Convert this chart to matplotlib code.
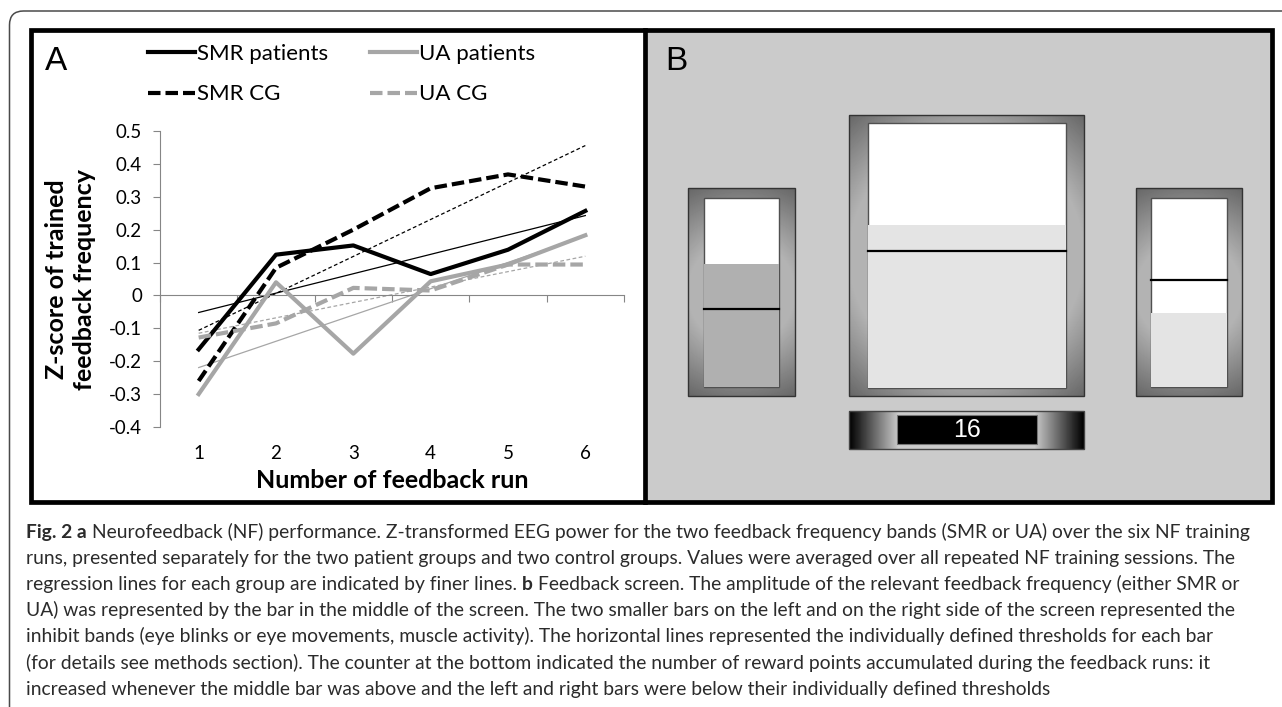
import numpy as np
import matplotlib.pyplot as plt
from matplotlib.patches import Rectangle, FancyBboxPatch

plt.rcParams['axes.unicode_minus'] = False

# ---------------------------------------------------------
# Data
# ---------------------------------------------------------
runs = [1, 2, 3, 4, 5, 6]
smr_patients = [-0.164, 0.124, 0.152, 0.065, 0.139, 0.257]
smr_cg = [-0.260, 0.084, 0.200, 0.326, 0.368, 0.331]
ua_patients = [-0.300, 0.040, -0.177, 0.043, 0.094, 0.183]
ua_cg = [-0.128, -0.085, 0.023, 0.015, 0.094, 0.094]

y_ticks = [-0.4, -0.3, -0.2, -0.1, 0.0, 0.1, 0.2, 0.3, 0.4, 0.5]
y_tick_labels = ["-0.4", "-0.3", "-0.2", "-0.1", "0", "0.1", "0.2", "0.3", "0.4", "0.5"]

BLACK = "black"
GRAY = "#a6a6a6"
AXIS_GRAY = "#868686"
FONT = "Lato"

series = [
    ("SMR patients", smr_patients, BLACK, "solid"),
    ("SMR CG", smr_cg, BLACK, "dashed"),
    ("UA patients", ua_patients, GRAY, "solid"),
    ("UA CG", ua_cg, GRAY, "dashed"),
]

# caption: each line is a list of (text, bold) pieces, joined by one space
caption_lines = [
    [("Fig. 2 a", True), ("Neurofeedback (NF) performance. Z-transformed EEG power for the two feedback frequency bands (SMR or UA) over the six NF training", False)],
    [("runs, presented separately for the two patient groups and two control groups. Values were averaged over all repeated NF training sessions. The", False)],
    [("regression lines for each group are indicated by finer lines.", False), ("b", True), ("Feedback screen. The amplitude of the relevant feedback frequency (either SMR or", False)],
    [("UA) was represented by the bar in the middle of the screen. The two smaller bars on the left and on the right side of the screen represented the", False)],
    [("inhibit bands (eye blinks or eye movements, muscle activity). The horizontal lines represented the individually defined thresholds for each bar", False)],
    [("(for details see methods section). The counter at the bottom indicated the number of reward points accumulated during the feedback runs: it", False)],
    [("increased whenever the middle bar was above and the left and right bars were below their individually defined thresholds", False)],
]

# ---------------------------------------------------------
# Figure / layout (pixel helpers)
# ---------------------------------------------------------
W, H = 1282, 707
fig = plt.figure(figsize=(W / 100, H / 100), dpi=100)


def fig_box(x0, y0, x1, y1):
    return [x0 / W, 1 - y1 / H, (x1 - x0) / W, (y1 - y0) / H]


bg = fig.add_axes([0, 0, 1, 1])
bg.set_xlim(0, W)
bg.set_ylim(H, 0)
bg.axis("off")

# outer rounded frame
bg.add_patch(FancyBboxPatch((9.5, 11), 1300, 720, boxstyle="round,pad=0,rounding_size=14",
                            fc="white", ec="#4a4a4a", lw=1.1, zorder=0))
# panel B background + borders
bg.add_patch(Rectangle((645, 30), 1272 - 645, 472, fc="#cbcbcb", ec="none", zorder=1))
bg.add_patch(Rectangle((31, 30), 1272 - 31, 472, fill=False, ec="black", lw=3.4, zorder=8))
bg.plot([645, 645], [30, 502], color="black", lw=3.4, zorder=8)

bg.text(45, 61, "A", fontsize=24, family="Liberation Sans", va="center", ha="left")
bg.text(665, 61, "B", fontsize=24, family="Liberation Sans", va="center", ha="left")


# ---------------------------------------------------------
# Panel B: feedback screen
# ---------------------------------------------------------
def frame_shade(w, h):
    yy, xx = np.mgrid[0:h, 0:w]
    d = np.hypot(xx - (w - 1) / 2, yy - (h - 1) / 2) / np.hypot(w / 2, h / 2)
    dmin = min(w, h) / 2 / np.hypot(w / 2, h / 2)
    t = np.clip((d - dmin) / (1 - dmin), 0, 1)
    return 0.70 - 0.30 * t


def gauge(outer, inner, fill_top, fill_col, thr_y):
    x0, y0, x1, y1 = outer
    bg.imshow(frame_shade(int(x1 - x0), int(y1 - y0)), cmap="gray", vmin=0, vmax=1,
              extent=(x0, x1, y1, y0), aspect="auto", interpolation="bilinear", zorder=3)
    bg.add_patch(Rectangle((x0, y0), x1 - x0, y1 - y0, fill=False, ec="#333333", lw=1, zorder=4))
    ix0, iy0, ix1, iy1 = inner
    bg.add_patch(Rectangle((ix0, iy0), ix1 - ix0, iy1 - iy0, fc="white", ec="#505050", lw=1, zorder=4))
    bg.add_patch(Rectangle((ix0, fill_top), ix1 - ix0, iy1 - fill_top, fc=fill_col, ec="none", zorder=5))
    bg.plot([ix0, ix1], [thr_y, thr_y], color="black", lw=1.6, zorder=6)


gauge((688, 188, 795, 396), (704, 198, 779, 387), 264, "#b0b0b0", 309)
gauge((849, 115, 1084, 396), (868, 123, 1066, 388), 225, "#e4e4e4", 251)
gauge((1136, 188, 1242, 396), (1151, 198, 1227, 387), 313, "#e4e4e4", 280)

# reward counter
cx0, cy0, cx1, cy1 = 849, 411, 1084, 449
u = np.abs(np.linspace(-1, 1, int(cx1 - cx0)))
shade = np.clip((1 - u) / 0.42, 0, 1) * 0.8
bg.imshow(np.tile(shade, (int(cy1 - cy0), 1)), cmap="gray", vmin=0, vmax=1,
          extent=(cx0, cx1, cy1, cy0), aspect="auto", interpolation="bilinear", zorder=3)
bg.add_patch(Rectangle((cx0, cy0), cx1 - cx0, cy1 - cy0, fill=False, ec="#444444", lw=1, zorder=4))
bg.add_patch(Rectangle((897, 415), 1037 - 897, 444 - 415, fc="black", ec="#777777", lw=0.8, zorder=5))
bg.text(967, 430, "16", color="white", fontsize=18, family="Liberation Sans",
        ha="center", va="center", zorder=6)

bg.set_xlim(0, W)
bg.set_ylim(H, 0)

# ---------------------------------------------------------
# Caption (pieces placed one after another, 1 data unit = 1 px)
# ---------------------------------------------------------
renderer = fig.canvas.get_renderer()
cap_kw = dict(fontsize=13.9, family=FONT, color="#2b2b2b", va="baseline", ha="left")


def text_width(s, **kw):
    t = bg.text(0, 0, s, **kw)
    w = t.get_window_extent(renderer).width
    t.remove()
    return w


space_w = text_width("x x", **cap_kw) - text_width("xx", **cap_kw)
for i, pieces in enumerate(caption_lines):
    x = 26
    for txt, bold in pieces:
        kw = dict(cap_kw, weight="bold" if bold else "normal")
        t = bg.text(x, 538 + 26.1 * i, txt, **kw)
        x += t.get_window_extent(renderer).width + space_w

# ---------------------------------------------------------
# Panel A: NF performance chart
# ---------------------------------------------------------
ax = fig.add_axes(fig_box(160, 131, 624, 427))
ax.patch.set_alpha(0)

# regression lines (finer lines)
for name, vals, col, ls in series:
    slope, icpt = np.polyfit(runs, vals, 1)
    ends = np.array([runs[0], runs[-1]])
    if ls == "dashed":
        ax.plot(ends, slope * ends + icpt, color=col, lw=0.9, dashes=(3, 2), zorder=2)
    else:
        ax.plot(ends, slope * ends + icpt, color=col, lw=0.9, zorder=2)

handles = []
for name, vals, col, ls in series:
    if ls == "dashed":
        ln, = ax.plot(runs, vals, color=col, lw=3, dashes=(3, 1.2), label=name, zorder=3)
    else:
        ln, = ax.plot(runs, vals, color=col, lw=3, label=name, zorder=3)
    handles.append(ln)

ax.set_xlim(0.5, len(runs) + 0.5)
ax.set_ylim(y_ticks[0], y_ticks[-1])
for s in ["top", "right"]:
    ax.spines[s].set_visible(False)
ax.spines["left"].set_color(AXIS_GRAY)
ax.spines["bottom"].set_color(AXIS_GRAY)
ax.spines["bottom"].set_position(("data", 0))

ax.set_yticks(y_ticks, labels=y_tick_labels)
ax.tick_params(axis="y", direction="out", length=5, color=AXIS_GRAY, pad=8,
               labelsize=13.5)
ax.set_xticks(np.arange(len(runs) + 1) + 0.5)
ax.tick_params(axis="x", direction="out", length=5, color=AXIS_GRAY, labelbottom=False)
for lab in ax.get_yticklabels():
    lab.set_family(FONT)

sec = ax.secondary_xaxis(0.0)
sec.set_xticks(runs, labels=[str(r) for r in runs])
sec.tick_params(length=0, pad=13, labelsize=13.5)
sec.spines["bottom"].set_visible(False)
for lab in sec.get_xticklabels():
    lab.set_family(FONT)

sec.set_xlabel("Number of feedback run", fontsize=18, fontweight="bold", family=FONT, labelpad=5)
ax.set_ylabel("Z-score of trained\nfeedback frequency", fontsize=18, fontweight="bold",
              family=FONT, linespacing=1.3, labelpad=9)

ax.legend(handles=handles, ncol=2, loc="upper left", bbox_to_anchor=(148 / W, 1 - 44 / H),
          bbox_transform=fig.transFigure, frameon=False, borderpad=0, borderaxespad=0,
          handlelength=2.1, handletextpad=0.1, columnspacing=1.9, labelspacing=0.92,
          prop={"family": FONT, "size": 16})

fig.savefig("out.png", dpi=100)
